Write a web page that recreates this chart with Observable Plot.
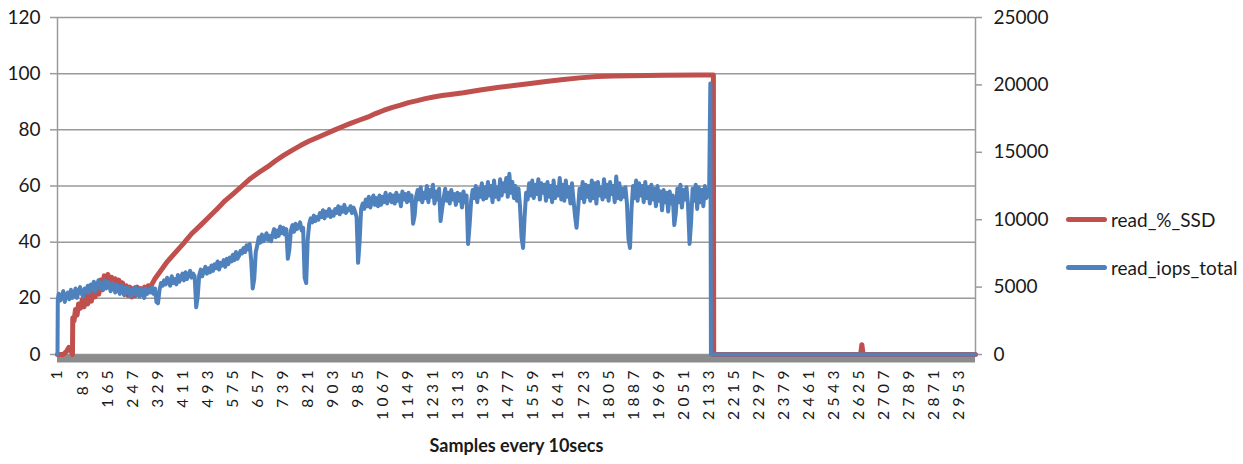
<!DOCTYPE html>
<html><head><meta charset="utf-8">
<script src="https://cdn.jsdelivr.net/npm/d3@7"></script>
<script src="https://cdn.jsdelivr.net/npm/@observablehq/plot@0.6"></script>
<style>
html,body{margin:0;padding:0;background:#fff;}
#wrap{position:relative;width:1243px;height:464px;font-family:Lato,"Open Sans",sans-serif;}
.leg{position:absolute;left:1066px;height:24px;display:flex;align-items:center;font-size:19px;color:#1a1a1a;white-space:nowrap;}
.leg .sw{display:inline-block;width:41px;height:5px;border-radius:3px;margin-right:4px;}
</style></head><body><div id="wrap"></div>
<script>
// ---- data ----
const seriesNames = ["read_%_SSD", "read_iops_total"];
const seriesColors = ["#C0504D", "#4F81BD"];
const xTitle = "Samples every 10secs";
const xTicks = [1,83,165,247,329,411,493,575,657,739,821,903,985,1067,1149,1231,1313,1395,1477,1559,1641,1723,1805,1887,1969,2051,2133,2215,2297,2379,2461,2543,2625,2707,2789,2871,2953];
const lastSample = 3006;
const leftTicks = [0,20,40,60,80,100,120];
const rightTicks = [0,5000,10000,15000,20000,25000];

// read_%_SSD (left axis)
const redSamples = [1,20,30,38,44,48,50,51,55,60,65,70,76,82,88,94,100,106,112,118,124,130,136,142,148,154,160,166,172,178,184,190,196,202,208,214,220,226,232,238,244,250,256,262,268,274,280,286,292,298,305,
  320,340,360,380,413,440,469,500,525,550,577,605,633,660,688,715,741,770,796,825,852,880,905,933,960,990,1016,1042,1068,1095,1124,1150,1179,1205,1232,1260,1287,1330,1385,1441,1495,1549,1600,1657,1710,1768,1820,1877,1985,2096,2148,2149,2630,2634,2638,3006];
const redPct = [0,0,1,2.5,2,0.5,0,13,12,16,14,18,16.5,19.5,17,21,18,22,19,23.5,20.5,25,21.5,26.5,23,28,24.5,28.5,25,27.5,24,27,23.5,26.5,22.5,25.5,21.5,24.5,21,24,20.5,23.5,21,24,21.5,23.5,21.5,24,22,24.5,24,
  27,30,33,35.5,39.5,43,46,49.3,52,54.8,57.3,60,62.7,64.8,66.8,69,70.9,72.8,74.4,76,77.3,78.6,79.8,81.1,82.3,83.5,84.5,85.8,86.9,87.9,88.8,89.7,90.4,91.1,91.7,92.2,92.6,93.2,94.2,95.1,95.8,96.5,97.2,97.9,98.5,99,99.2,99.3,99.4,99.5,99.5,0,0,3.5,0,0];

// read_iops_total (right axis): one value every 5 samples, from sample 5 to 2130
const blueStart = 5, blueStep = 5;
const blueIops = [
  4500,4000,4300,4700,3900,4400,4600,4100,4800,4200,
  4400,4900,4200,4700,5000,4500,4300,4900,4600,5100,
  4600,5200,4800,5400,4700,5100,5500,4900,5300,4800,
  5500,4900,5400,5100,4700,5300,5000,4600,5200,4800,
  4500,5100,4700,4400,5000,4600,4900,4300,4800,4500,
  5000,4400,4800,4300,4900,4600,4200,4900,4500,4800,
  4600,5000,4500,4900,3900,3800,4800,5300,5100,5500,
  5200,5700,5400,5100,5800,5300,5600,5200,5900,5400,
  5700,6000,5500,6100,5600,5900,6200,5700,6000,5800,
  3500,4300,5900,6300,5800,6200,6500,6000,6400,6100,
  6600,6200,6700,6400,6900,6300,6800,6600,7000,6500,
  7100,6700,7200,6900,7400,7000,7600,7100,7300,7700,
  7500,7900,7600,8100,7800,8200,7000,4900,5600,7600,
  8100,8700,8300,8900,8400,8600,9000,8500,8800,8400,
  8900,9300,8700,9200,8800,9500,9000,9400,8900,9300,
  7100,7800,9200,9600,9100,9700,9300,9500,9800,9200,
  9400,5700,5300,8500,9700,10100,9800,10300,9900,10200,
  10000,10500,10200,10700,10100,10600,10300,10800,10200,10600,
  10300,10800,10500,11000,10400,10900,10600,11100,10500,10800,
  10700,11000,10500,10900,10600,10200,6800,8400,10800,11200,
  10800,11500,11000,11700,10900,11400,11800,11100,11600,11000,
  11800,11100,11700,11300,12000,11200,11600,11900,11300,11800,
  11200,12000,11400,11800,11000,12100,11500,11900,11300,12000,
  11400,11800,9700,10300,11700,12200,11500,12400,11300,12000,
  11600,12500,11300,12200,11700,12600,11200,12100,11500,12300,
  9900,10800,11600,12300,11400,12000,11200,12200,11500,11900,
  11100,12000,11400,11900,10900,12100,11300,11800,8200,9600,
  11400,12200,11600,12500,11300,12300,11700,12700,11500,12400,
  11600,12800,11800,12500,11300,12900,11700,12400,11500,13000,
  11800,12700,12100,13100,11700,13400,12000,12800,11600,12500,
  11400,12300,11000,8700,7900,10200,12000,11500,12700,11800,
  12900,11600,12600,11900,13000,11500,12700,12000,12600,11400,
  12800,11700,12500,11300,12900,11600,12400,11800,13100,11500,
  12600,11400,12900,11700,12400,11200,12700,11500,10300,9400,
  10800,12300,11600,12800,11300,12600,11700,12500,11400,12900,
  11600,12700,11200,12800,11800,12400,11500,13000,11700,12600,
  11400,12800,11900,12500,11300,13200,11600,12700,11500,12300,
  11700,12400,11200,8600,7900,10800,12500,11600,12900,11400,
  12700,11800,12500,11300,12800,11600,12400,11200,12600,11500,
  12300,11000,12500,11400,12100,10700,12200,11300,12000,10600,
  12100,11200,11800,9600,10500,12300,11300,12600,10900,12200,
  11500,12400,11100,8200,9800,12300,11400,12600,10800,12400,
  11300,12200,11000,12500,11600,12100
];
const blueEdgeSamples = [1, 2, 2134, 2138, 2140, 3006];
const blueEdgeIops = [0, 4100, 11800, 20100, 0, 0];

// ---- build ----
const K = leftTicks[leftTicks.length-1] / rightTicks[rightTicks.length-1];
const redData = redSamples.map((s,i)=>({s, v: redPct[i]}));
const blueData = blueIops.map((v,i)=>({s: blueStart + i*blueStep, v}))
  .concat(blueEdgeSamples.map((s,i)=>({s, v: blueEdgeIops[i]})))
  .sort((a,b)=>a.s-b.s);

const gray = "#9a9a9a";
const chart = Plot.plot({
  width: 1243, height: 464,
  marginLeft: 57, marginRight: 268, marginTop: 17, marginBottom: 110,
  x: {type: "linear", domain: [1, lastSample], axis: null},
  y: {domain: [0, 120], axis: null},
  style: {fontFamily: "Lato, 'Open Sans', sans-serif", fontSize: "19px", color: "#1a1a1a", background: "#fff"},
  marks: [
    Plot.gridY(leftTicks, {stroke: gray, strokeOpacity: 1, strokeWidth: 1.5}),
    Plot.axisY(leftTicks, {anchor: "left", label: null, tickSize: 7, tickPadding: 10, stroke: gray, strokeWidth: 1.5, fontSize: 19}),
    Plot.axisY(rightTicks.map(d => d*K), {anchor: "right", label: null, tickSize: 6, tickPadding: 12, stroke: gray, strokeWidth: 1.5, fontSize: 19,
      tickFormat: d => String(Math.round(d / K))}),
    Plot.ruleX([1], {stroke: gray, strokeWidth: 1.5}),
    Plot.ruleX([lastSample], {stroke: gray, strokeWidth: 1.5}),
    Plot.ruleY([0], {stroke: "#8c8c8c", strokeWidth: 8, dy: 4}),
    Plot.line(redData, {x: "s", y: "v", stroke: seriesColors[0], strokeWidth: 5, strokeLinejoin: "round"}),
    Plot.line(blueData, {x: "s", y: d => d.v * K, stroke: seriesColors[1], strokeWidth: 4, strokeLinejoin: "round"}),
    Plot.axisX(xTicks, {label: null, tickRotate: -90, tickSize: 0, tickPadding: 16, fontSize: 15.5, tickFormat: d => String(d)}),
    Plot.text([xTitle], {frameAnchor: "bottom", dy: 97, fontWeight: "bold", fontSize: 18})
  ]
});
const wrap = document.getElementById("wrap");
wrap.appendChild(chart);
// stretch rotated x tick labels along their length, like the reference
const xTickStrings = new Set(xTicks.map(String));
chart.querySelectorAll("text").forEach(t => {
  const s = t.textContent.trim();
  if (xTickStrings.has(s)) {
    t.setAttribute("textLength", String(s.length * 12.4));
    t.setAttribute("lengthAdjust", "spacing");
  }
});

// legend
const legTops = [207, 255];
seriesNames.forEach((name, i) => {
  const d = document.createElement("div");
  d.className = "leg";
  d.style.top = legTops[i] + "px";
  d.innerHTML = `<span class="sw" style="background:${seriesColors[i]}"></span><span>${name}</span>`;
  wrap.appendChild(d);
});
</script></body></html>
